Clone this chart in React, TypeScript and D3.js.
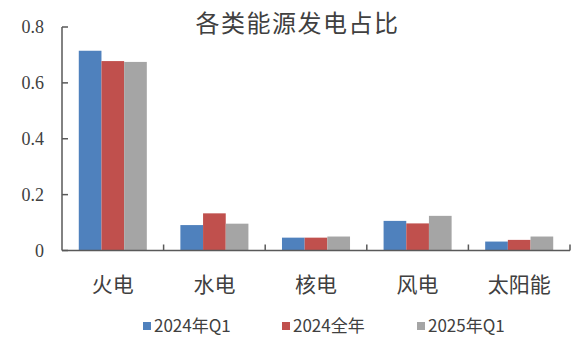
import React from "react";
import * as d3 from "d3";

const categories = ["火电", "水电", "核电", "风电", "太阳能"];
const seriesNames = ["2024年Q1", "2024全年", "2025年Q1"];
const q1_2024 = [0.715, 0.091, 0.046, 0.106, 0.032];
const full_2024 = [0.678, 0.133, 0.046, 0.097, 0.038];
const q1_2025 = [0.675, 0.096, 0.05, 0.124, 0.05];
const yTicks = [0, 0.2, 0.4, 0.6, 0.8];
const colors = ["#4F81BD", "#C0504D", "#A5A5A5"];

const W = 576, H = 345;
const left = 62, right = 570, top = 27, bottom = 250.5;

export default function App() {
  const series = [q1_2024, full_2024, q1_2025];
  const x = d3.scaleBand<string>().domain(categories).range([left, right]).paddingInner(0).paddingOuter(0);
  const inner = d3.scaleBand<number>().domain([0, 1, 2]).range([0, x.bandwidth()]).paddingInner(0).paddingOuter(0.74);
  const y = d3.scaleLinear().domain([0, 0.8]).range([bottom, top]);
  const axisColor = "#595959";
  const fmt = (v: number) => (v === 0 ? "0" : d3.format(".1f")(v));
  return (
    <svg width={W} height={H} style={{ position: "absolute", left: 0, top: 0, background: "#fff" }}>
      <text x={297.5} y={32} textAnchor="middle" fontFamily="'Noto Sans CJK SC'" fontSize={24} letterSpacing={1.5} fill="#404040">各类能源发电占比</text>
      {series.map((vals, si) =>
        categories.map((c, ci) => (
          <rect key={`${si}-${ci}`} x={(x(c) as number) + (inner(si) as number)} y={y(vals[ci])}
            width={inner.bandwidth()} height={bottom - y(vals[ci])} fill={colors[si]} />
        ))
      )}
      <line x1={left} x2={left} y1={top} y2={bottom} stroke={axisColor} strokeWidth={1.5} />
      <line x1={left} x2={right} y1={bottom} y2={bottom} stroke={axisColor} strokeWidth={1.5} />
      {yTicks.map((t) => (
        <g key={t}>
          <line x1={left} x2={left + 6} y1={y(t)} y2={y(t)} stroke={axisColor} strokeWidth={1.5} />
          <text x={44} y={y(t) + 6} textAnchor="end" fontFamily="'Liberation Serif'" fontSize={18} fill="#404040">{fmt(t)}</text>
        </g>
      ))}
      {categories.map((c) => (
        <line key={c} x1={(x(c) as number) + x.bandwidth()} x2={(x(c) as number) + x.bandwidth()} y1={bottom} y2={bottom - 6} stroke={axisColor} strokeWidth={1.5} />
      ))}
      {categories.map((c) => (
        <text key={c} x={(x(c) as number) + x.bandwidth() / 2} y={292} textAnchor="middle" fontFamily="'Noto Sans CJK SC'" fontSize={21} fill="#404040">{c}</text>
      ))}
      {seriesNames.map((n, i) => {
        const lx = [143, 282, 417][i];
        return (
          <g key={n}>
            <rect x={lx} y={322} width={8} height={8} fill={colors[i]} />
            <text x={lx + 11} y={332} fontFamily="'Noto Sans CJK SC'" fontSize={17} fill="#404040">{n}</text>
          </g>
        );
      })}
    </svg>
  );
}
